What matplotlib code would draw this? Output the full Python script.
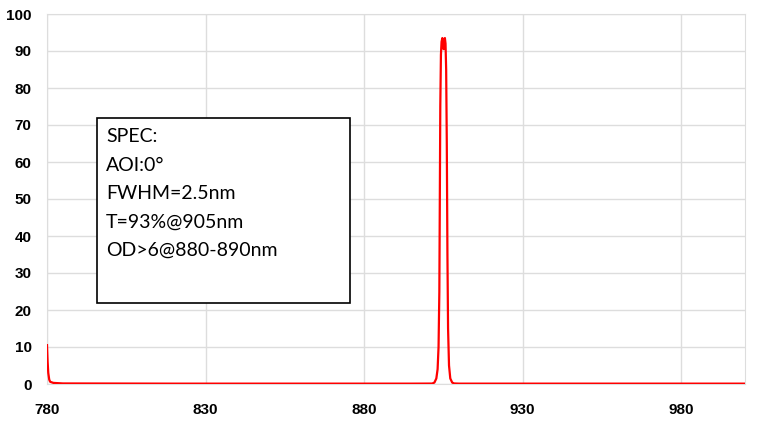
import matplotlib
matplotlib.use("Agg")
import matplotlib.pyplot as plt

wavelength = [780.0, 780.2, 780.4, 780.7, 781.0, 782.0, 785.0, 820.0, 860.0, 895.0,
              901.5, 902.2, 902.8, 903.2, 903.5, 903.75, 903.9, 904.05, 904.25, 904.45,
              904.7, 904.9, 905.1, 905.3, 905.5, 905.7, 905.9, 906.1, 906.3, 906.5,
              906.8, 907.2, 907.8, 908.4, 910.0, 950.0, 1000.0]
transmission = [10.5, 6.0, 3.0, 1.2, 0.6, 0.3, 0.15, 0.1, 0.1, 0.1,
                0.12, 0.4, 1.5, 4.0, 10.0, 25.0, 50.0, 75.0, 89.0, 92.5,
                93.5, 92.0, 90.5, 92.5, 93.5, 92.0, 85.0, 65.0, 35.0, 15.0,
                5.0, 1.5, 0.4, 0.15, 0.1, 0.1, 0.1]

x_ticks = [780, 830, 880, 930, 980]
y_ticks = [0, 10, 20, 30, 40, 50, 60, 70, 80, 90, 100]
spec_lines = ["SPEC:", "AOI:0\u00b0", "FWHM=2.5nm", "T=93%@905nm", "OD>6@880-890nm"]

fig = plt.figure(figsize=(7.59, 4.23), dpi=100)
ax = fig.add_axes([47/759, 1-384/423, (744.5-47)/759, (384-14)/423])

ax.plot(wavelength, transmission, color="#ff0000", lw=1.6, zorder=3)
ax.set_xlim(780, 1000)
ax.set_ylim(0, 100)
ax.set_xticks(x_ticks)
ax.set_yticks(y_ticks)
ax.grid(True, color="#dddddd", lw=1.0, zorder=0)
for s in ["top", "right", "left", "bottom"]:
    ax.spines[s].set_color("#dddddd")
ax.tick_params(length=0, labelsize=11)
ax.tick_params(axis="y", pad=11)
ax.tick_params(axis="x", pad=14)
for lab in ax.get_xticklabels() + ax.get_yticklabels():
    lab.set_fontweight("bold")
    lab.set_fontfamily("Liberation Sans")

# spec box
box_l, box_r, box_t, box_b = 96.7, 350, 118.3, 302.7
rect = plt.Rectangle((box_l/759, 1-box_b/423), (box_r-box_l)/759, (box_b-box_t)/423,
                     transform=fig.transFigure, fill=True, facecolor="white",
                     edgecolor="black", lw=1.2, zorder=5)
fig.patches.append(rect)
ys = [136.7, 165.2, 193.5, 221.8, 250.2]
for t, y in zip(spec_lines, ys):
    fig.text(106/759, 1-y/423, t, fontsize=14, family=["Lato", "DejaVu Sans"],
             va="center", ha="left", zorder=6)

fig.savefig("out.png", dpi=100)
